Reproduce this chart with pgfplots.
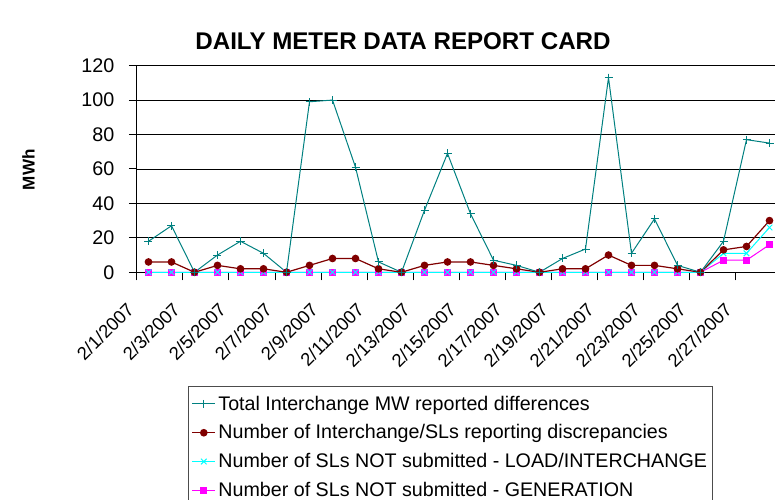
\documentclass[border=0pt]{standalone}
\usepackage{pgfplots}
\pgfplotsset{compat=1.18}
\usepackage{fontspec}
\setmainfont{Liberation Sans}
\definecolor{cteal}{HTML}{008080}
\definecolor{cdred}{HTML}{800000}
\definecolor{ccyan}{HTML}{00FFFF}
\definecolor{cmag}{HTML}{FF00FF}
\begin{document}
\begin{tikzpicture}
\begin{axis}[
  scale only axis,
  width=483pt, height=155pt,
  xmin=0.5, xmax=28.5, ymin=0, ymax=120,
  axis x line*=bottom, axis y line*=left,
  axis line style={black, line width=0.75pt},
  /pgf/number format/assume math mode=true,
  ytick={0,20,...,120},
  ymajorgrids=true,
  grid style={black, line width=0.6pt},
  tick align=outside,
  major tick length=6pt,
  tick style={black, line width=0.75pt},
  xtick={0.5,2.5,...,28.5},
  xticklabels={},
  extra x ticks={1,3,...,27},
  extra x tick labels={2/1/2007,2/3/2007,2/5/2007,2/7/2007,2/9/2007,2/11/2007,2/13/2007,2/15/2007,2/17/2007,2/19/2007,2/21/2007,2/23/2007,2/25/2007,2/27/2007},
  extra x tick style={major tick length=0pt, xmajorgrids=false},
  yticklabel style={font=\fontsize{14.8pt}{17pt}\selectfont, anchor=east, xshift=-7.5pt},
  xticklabel style={font=\fontsize{13.8pt}{16pt}\selectfont, xshift=-11pt, yshift=-23pt, rotate=45, anchor=east},
  legend style={at={(axis description cs:0.0792,-0.5503)}, anchor=north west,
    draw=black!70, line width=0.75pt, font=\fontsize{14.75pt}{17.8pt}\selectfont,
    row sep=5.4pt, inner xsep=2.5pt, inner ysep=5pt},
  legend cell align=left,
  reverse legend,
  clip=false,
]
\addplot[cmag, line width=0.75pt, mark=square*, mark size=2.3pt, mark options={solid}] coordinates {
(1,0)(2,0)(3,0)(4,0)(5,0)(6,0)(7,0)(8,0)(9,0)(10,0)(11,0)(12,0)(13,0)(14,0)
(15,0)(16,0)(17,0)(18,0)(19,0)(20,0)(21,0)(22,0)(23,0)(24,0)(25,0)(26,7)(27,7)(28,16)};
\addlegendentry{Number of SLs NOT submitted - GENERATION}
\addplot[ccyan, line width=0.75pt, mark=x, mark size=3pt, mark options={solid}] coordinates {
(1,0)(2,0)(3,0)(4,0)(5,0)(6,0)(7,0)(8,0)(9,0)(10,0)(11,0)(12,0)(13,0)(14,0)
(15,0)(16,0)(17,0)(18,0)(19,0)(20,0)(21,0)(22,0)(23,0)(24,0)(25,0)(26,11)(27,11)(28,26)};
\addlegendentry{Number of SLs NOT submitted - LOAD/INTERCHANGE}
\addplot[cdred, line width=0.9pt, mark=*, mark size=2.4pt, mark options={solid}] coordinates {
(1,6)(2,6)(3,0)(4,4)(5,2)(6,2)(7,0)(8,4)(9,8)(10,8)(11,2)(12,0)(13,4)(14,6)
(15,6)(16,4)(17,2)(18,0)(19,2)(20,2)(21,10)(22,4)(23,4)(24,2)(25,0)(26,13)(27,15)(28,30)};
\addlegendentry{Number of Interchange/SLs reporting discrepancies}
\addplot[cteal, line width=0.75pt, mark=+, mark size=3pt, mark options={solid}] coordinates {
(1,18)(2,27)(3,0)(4,10)(5,18)(6,11)(7,0)(8,99)(9,100)(10,61)(11,6)(12,0)(13,36)(14,69)
(15,34)(16,7)(17,4)(18,0)(19,8)(20,13.5)(21,113)(22,11)(23,31)(24,4)(25,0)(26,18)(27,77)(28,75)};
\addlegendentry{Total Interchange MW reported differences}
\end{axis}
\node[font=\bfseries\fontsize{18.1pt}{21pt}\selectfont] at (199.5pt,173.25pt) {DAILY METER DATA REPORT CARD};
\node[font=\bfseries\fontsize{12.8pt}{15pt}\selectfont, rotate=90] at (-81.5pt,76.95pt) {MWh};
\pgfresetboundingbox
\useasboundingbox (-102.75pt,-170.8pt) rectangle (478.5pt,204.2pt);
\end{tikzpicture}
\end{document}
